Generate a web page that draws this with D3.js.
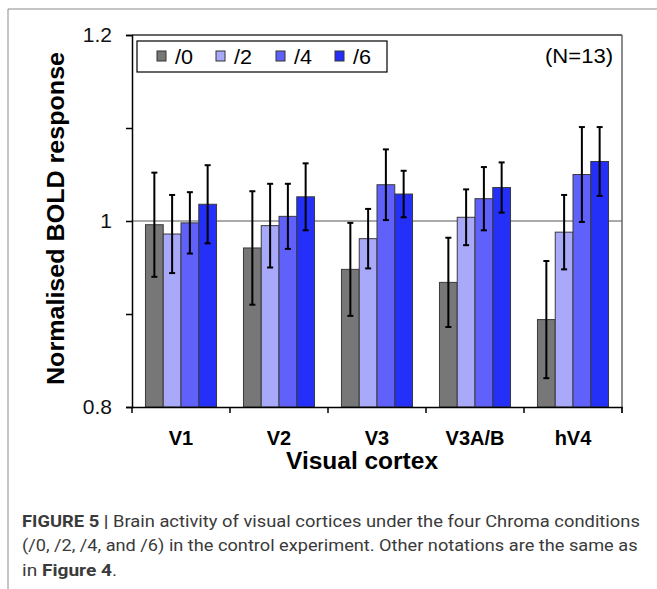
<!DOCTYPE html>
<html>
<head>
<meta charset="utf-8">
<script src="https://cdn.jsdelivr.net/npm/d3@7"></script>
<style>
  html, body { margin: 0; padding: 0; background: #fff; }
  svg { display: block; }
</style>
</head>
<body>
<svg id="chart" width="657" height="589"></svg>
<script>
// ---- data ----
const categories = ["V1", "V2", "V3", "V3A/B", "hV4"];
const seriesNames = ["/0", "/2", "/4", "/6"];
const values0 = [0.996, 0.971, 0.948, 0.934, 0.894];
const values2 = [0.986, 0.995, 0.981, 1.004, 0.988];
const values4 = [0.998, 1.005, 1.039, 1.024, 1.050];
const values6 = [1.018, 1.026, 1.029, 1.036, 1.064];
const errors0 = [0.056, 0.061, 0.050, 0.048, 0.063];
const errors2 = [0.042, 0.045, 0.032, 0.030, 0.040];
const errors4 = [0.033, 0.035, 0.038, 0.034, 0.051];
const errors6 = [0.042, 0.036, 0.025, 0.027, 0.037];
const yTickValues = [0.8, 1.0, 1.2];
const yMinorTicks = [0.9, 1.1];
const yTickLabels = ["0.8", "1", "1.2"];
const colors = ["#777777", "#a9a9fa", "#6060fb", "#2430f8"];

const seriesValues = [values0, values2, values4, values6];
const seriesErrors = [errors0, errors2, errors4, errors6];

const svg = d3.select("#chart");
const font = "Arial, 'Liberation Sans', sans-serif";

function fitWidth(sel, x, target) {
  const w = sel.node().getComputedTextLength();
  const k = target / w;
  sel.attr("transform", `translate(${x},0) scale(${k},1) translate(${-x},0)`);
}

// outer frame
svg.append("line").attr("x1", 8).attr("x2", 657).attr("y1", 9).attr("y2", 9)
  .attr("stroke", "#8a8a8a").attr("stroke-width", 1);
svg.append("line").attr("x1", 8).attr("x2", 8).attr("y1", 9).attr("y2", 589)
  .attr("stroke", "#8a8a8a").attr("stroke-width", 1);

// plot area
const pLeft = 132, pRight = 622, pTop = 35, pBottom = 407;
const x0 = d3.scaleBand().domain(categories).range([pLeft, pRight]).paddingInner(0).paddingOuter(0);
const groupW = x0.bandwidth() * 0.725;
const x1 = d3.scaleBand().domain(seriesNames)
  .range([(x0.bandwidth() - groupW) / 2, (x0.bandwidth() + groupW) / 2]);
const y = d3.scaleLinear().domain([0.8, 1.2]).range([pBottom, pTop]);

// reference line at 1
svg.append("line").attr("x1", pLeft).attr("x2", pRight)
  .attr("y1", y(1)).attr("y2", y(1)).attr("stroke", "#555").attr("stroke-width", 1.2);

// bars
const g = svg.append("g");
categories.forEach((c, ci) => {
  seriesNames.forEach((s, si) => {
    const v = seriesValues[si][ci];
    g.append("rect")
      .attr("x", x0(c) + x1(s))
      .attr("y", y(v))
      .attr("width", x1.bandwidth())
      .attr("height", y(0.8) - y(v))
      .attr("fill", colors[si])
      .attr("stroke", "#3a3a3a")
      .attr("stroke-width", 1);
  });
});

// error bars
categories.forEach((c, ci) => {
  seriesNames.forEach((s, si) => {
    const v = seriesValues[si][ci], e = seriesErrors[si][ci];
    const cx = x0(c) + x1(s) + x1.bandwidth() / 2;
    const eb = g.append("g").attr("stroke", "#000").attr("stroke-width", 2);
    eb.append("line").attr("x1", cx).attr("x2", cx).attr("y1", y(v + e)).attr("y2", y(v - e));
    eb.append("line").attr("x1", cx - 3).attr("x2", cx + 3).attr("y1", y(v + e)).attr("y2", y(v + e));
    eb.append("line").attr("x1", cx - 3).attr("x2", cx + 3).attr("y1", y(v - e)).attr("y2", y(v - e));
  });
});

// frame top and right
svg.append("line").attr("x1", pLeft).attr("x2", pRight).attr("y1", pTop).attr("y2", pTop)
  .attr("stroke", "#333").attr("stroke-width", 1.5);
svg.append("line").attr("x1", pRight).attr("x2", pRight).attr("y1", pTop).attr("y2", pBottom + 6)
  .attr("stroke", "#666").attr("stroke-width", 1.5);

// y axis
const yAxis = d3.axisLeft(y).tickValues(yTickValues)
  .tickFormat((d, i) => yTickLabels[i]).tickSize(6).tickPadding(14);
const ya = svg.append("g").attr("transform", `translate(${pLeft},0)`).call(yAxis);
ya.select(".domain").attr("stroke", "#000").attr("stroke-width", 1.5);
ya.selectAll(".tick line").attr("stroke", "#000").attr("stroke-width", 1.5);
ya.selectAll(".tick text").attr("font-family", font).attr("font-size", 21)
  .attr("fill", "#111");
const yMinor = d3.axisLeft(y).tickValues(yMinorTicks).tickFormat("").tickSize(6);
const ym = svg.append("g").attr("transform", `translate(${pLeft},0)`).call(yMinor);
ym.select(".domain").remove();
ym.selectAll(".tick line").attr("stroke", "#000").attr("stroke-width", 1.5);

// x axis
const xAxis = d3.axisBottom(x0).tickSize(0).tickPadding(24);
const xa = svg.append("g").attr("transform", `translate(0,${pBottom})`).call(xAxis);
xa.select(".domain").attr("stroke", "#000").attr("stroke-width", 1.5);
xa.selectAll(".tick text").attr("font-family", font).attr("font-size", 20)
  .attr("font-weight", "bold").attr("fill", "#000");
// boundary ticks
const boundaries = categories.map(c => x0(c)).concat([x0(categories[categories.length - 1]) + x0.bandwidth()]);
xa.selectAll(".bnd").data(boundaries).enter().append("line")
  .attr("x1", d => d).attr("x2", d => d).attr("y1", 0).attr("y2", 6)
  .attr("stroke", "#000").attr("stroke-width", 1.5);

// axis titles
svg.append("text")
  .attr("transform", `translate(64,${(52 + 385) / 2}) rotate(-90)`)
  .attr("text-anchor", "middle")
  .attr("font-family", font).attr("font-size", 23).attr("font-weight", "bold")
  .attr("textLength", 333).attr("lengthAdjust", "spacingAndGlyphs")
  .text("Normalised BOLD response");

svg.append("text")
  .attr("x", 286).attr("y", 469)
  .attr("font-family", font).attr("font-size", 23).attr("font-weight", "bold")
  .attr("textLength", 152).attr("lengthAdjust", "spacingAndGlyphs")
  .text("Visual cortex");

// legend
svg.append("rect").attr("x", 137).attr("y", 41).attr("width", 250).attr("height", 31)
  .attr("fill", "#fff").attr("stroke", "#000").attr("stroke-width", 1.2);
const legendX = [157, 216, 276, 335];
seriesNames.forEach((s, i) => {
  svg.append("rect").attr("x", legendX[i]).attr("y", 51).attr("width", 9).attr("height", 10)
    .attr("fill", colors[i]).attr("stroke", "#333").attr("stroke-width", 1);
  svg.append("text").attr("x", legendX[i] + 18).attr("y", 64)
    .attr("font-family", font).attr("font-size", 20).attr("fill", "#000")
    .attr("textLength", 18).attr("lengthAdjust", "spacingAndGlyphs")
    .text(s);
});
svg.append("text").attr("x", 545).attr("y", 63)
  .attr("font-family", font).attr("font-size", 20).attr("fill", "#000")
  .attr("textLength", 68).attr("lengthAdjust", "spacingAndGlyphs")
  .text("(N=13)");

// caption
const capFont = "Roboto, 'Liberation Sans', sans-serif";
const cap1 = svg.append("text").attr("x", 22).attr("y", 527)
  .attr("font-family", capFont).attr("font-size", 17).attr("fill", "#3a3a3a");
cap1.append("tspan").attr("font-weight", "bold").text("FIGURE 5 |");
cap1.append("tspan").text(" Brain activity of visual cortices under the four Chroma conditions");
fitWidth(cap1, 22, 618);

const cap2 = svg.append("text").attr("x", 22).attr("y", 551)
  .attr("font-family", capFont).attr("font-size", 17).attr("fill", "#3a3a3a")
  .text("(/0, /2, /4, and /6) in the control experiment. Other notations are the same as");
fitWidth(cap2, 22, 616);

const cap3 = svg.append("text").attr("x", 22).attr("y", 576)
  .attr("font-family", capFont).attr("font-size", 17).attr("fill", "#3a3a3a");
cap3.append("tspan").text("in ");
cap3.append("tspan").attr("font-weight", "bold").text("Figure 4");
cap3.append("tspan").text(".");
fitWidth(cap3, 22, 95);
</script>
</body>
</html>
